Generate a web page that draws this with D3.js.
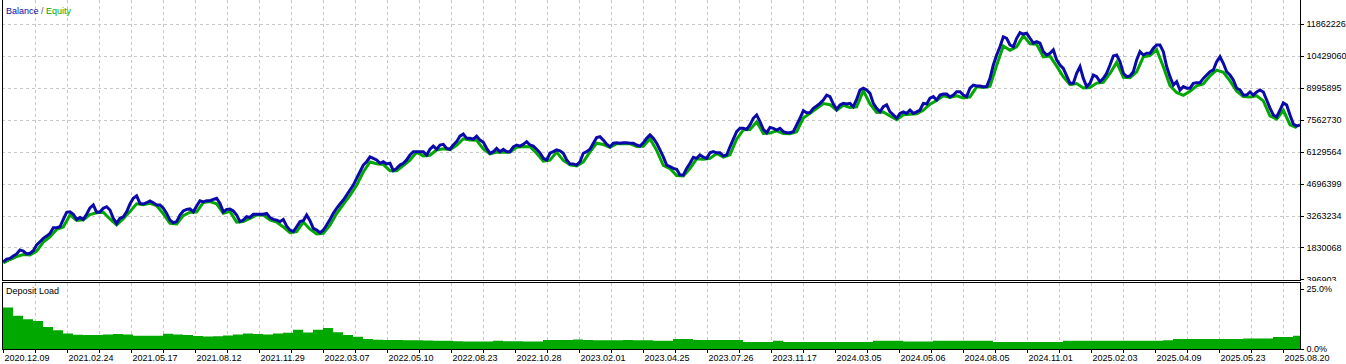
<html>
  <head>
    <title>Balance / Equity</title>
    <script type="text/javascript" src="https://cdn.jsdelivr.net/npm/d3@7/dist/d3.min.js"></script>
    <style>
      body { margin: 0; background: #fff; }
      svg text { font-family: "Liberation Sans", Arial, sans-serif; font-size: 9px; fill: #000; }
    </style>
    <script type="text/javascript">
      // balance, sampled along the test (millions)
      var balance = [
        1.18,1.31,1.34,1.45,1.54,1.72,1.67,1.54,1.57,1.68,
        1.94,2.09,2.24,2.34,2.46,2.72,2.72,2.76,3.09,3.41,
        3.43,3.32,3.09,3.18,3.09,3.32,3.61,3.74,3.41,3.43,
        3.59,3.66,3.51,3.14,2.91,3.14,3.21,3.43,3.78,4.04,
        4.15,3.81,3.78,3.84,3.92,3.84,3.74,3.74,3.59,3.36,
        3.06,2.94,2.99,3.29,3.47,3.54,3.56,3.43,3.69,3.93,
        3.88,3.93,3.93,3.99,4.04,3.81,3.43,3.54,3.56,3.47,
        3.29,2.99,3.06,3.21,3.18,3.32,3.32,3.32,3.32,3.36,
        3.17,3.09,3.06,2.99,3.09,2.79,2.61,2.54,2.76,2.99,
        3.03,3.29,3.03,2.69,2.61,2.49,2.61,2.84,3.09,3.36,
        3.59,3.78,3.96,
        4.18,4.41,4.63,4.93,5.23,5.53,5.68,5.90,5.83,5.76,
        5.61,5.68,5.58,5.61,5.28,5.38,5.53,5.61,5.76,5.98,
        6.13,6.13,6.13,6.13,5.98,6.24,6.38,6.24,6.43,6.46,
        6.28,6.24,6.43,6.58,6.83,6.92,6.73,6.73,6.69,6.83,
        6.65,6.55,6.28,6.06,6.13,6.28,6.13,6.24,6.13,6.13,
        6.35,6.43,6.38,6.46,6.58,6.43,6.38,6.24,6.08,5.83,
        5.76,6.06,6.13,6.21,6.17,6.06,5.76,5.58,5.58,5.53,
        5.68,6.06,6.13,6.24,6.51,6.76,6.80,6.65,6.47,6.35,
        6.51,6.53,6.51,6.53,6.53,6.51,6.51,6.43,6.38,6.53,
        6.73,6.88,6.73,6.51,6.21,5.90,5.53,
        5.46,5.38,5.34,5.08,5.08,5.38,5.61,5.88,5.83,5.98,
        5.88,5.83,6.08,6.13,6.08,6.08,5.94,5.98,6.35,6.69,
        7.03,7.18,7.18,7.13,7.33,7.63,7.78,7.48,7.13,6.98,
        7.22,7.18,7.10,7.18,7.03,6.98,6.98,7.03,7.33,7.63,
        7.97,7.88,7.88,8.08,8.18,8.30,8.45,8.67,8.60,8.27,
        8.03,8.23,8.30,8.27,8.30,8.15,8.48,8.90,8.98,8.90,
        8.75,8.30,8.08,7.92,8.15,8.23,7.92,7.78,7.63,7.85,
        7.92,7.85,8.00,7.85,7.92,8.00,8.30,8.27,8.53,8.60,
        8.45,8.67,8.72,8.72,8.59,
        8.67,8.82,8.82,8.67,8.60,8.98,9.12,9.08,9.08,9.05,
        9.05,9.42,10.02,10.47,10.84,11.29,11.22,10.92,10.84,11.22,
        11.47,11.41,11.45,11.22,11.00,11.07,11.00,10.62,10.47,10.55,
        10.70,10.25,10.02,9.87,9.53,9.20,9.20,9.65,9.95,9.42,
        9.05,9.20,9.57,9.50,9.27,9.42,9.65,10.02,10.43,10.47,
        10.17,9.65,9.50,9.53,9.72,10.25,10.62,10.47,10.55,10.55,
        10.77,10.92,10.92,10.62,9.95,9.50,9.12,9.27,8.90,9.05,
        8.98,8.98,9.20,9.23,9.23,9.42,9.57,9.72,9.80,10.17,
        10.39,10.10,9.72,9.57,9.35,8.98,8.90,8.67,8.67,8.81,
        8.67,8.81,8.90,8.81,8.45,8.09,7.78,7.69,8.00,8.32,
        8.23,7.78,7.37,7.28,7.33
      ];

      // equity low points, one per two balance samples (millions)
      var equity = [
        1.14,1.29,1.42,1.51,1.49,1.67,2.07,2.31,2.64,2.75,
        3.29,3.04,3.07,3.31,3.39,3.41,3.11,2.84,3.12,3.44,
        3.79,3.75,3.81,3.71,3.34,2.91,2.89,3.26,3.41,3.42,
        3.85,3.89,3.79,3.37,3.45,2.97,2.99,3.14,3.29,3.29,
        3.07,2.97,2.75,2.49,2.54,2.97,2.65,2.44,2.47,2.83,
        3.35,3.77,
        4.17,4.62,5.22,5.67,5.59,5.56,5.27,5.27,5.51,5.75,
        6.11,5.94,5.97,6.21,6.26,6.22,6.42,6.71,6.66,6.64,
        6.25,6.03,6.11,6.10,6.11,6.33,6.36,6.35,6.06,5.71,
        5.75,6.11,5.74,5.54,5.49,5.67,6.12,6.51,6.45,6.33,
        6.49,6.49,6.49,6.36,6.37,6.71,6.19,5.51,
        5.37,5.06,5.04,5.37,5.81,5.79,5.83,6.05,5.89,5.99,
        6.69,7.11,7.12,7.47,6.95,6.97,7.07,6.95,6.94,7.03,
        7.64,7.85,8.07,8.29,8.24,7.99,8.21,8.12,8.14,8.87,
        8.27,7.89,7.91,7.73,7.57,7.79,7.81,7.83,7.99,8.26,
        8.43,8.64,8.56,
        8.64,8.54,8.59,9.04,9.01,9.07,10.01,10.87,10.68,10.84,
        11.34,10.97,10.95,10.39,10.42,9.97,9.49,9.14,9.19,8.99,
        9.01,9.21,9.24,9.64,10.14,9.47,9.45,9.71,10.39,10.44,
        10.71,9.94,9.09,8.79,8.66,8.84,9.09,9.17,9.54,9.79,
        9.69,9.31,8.84,8.61,8.59,8.64,8.41,7.74,7.59,7.99,
        7.34,7.21
      ];

      // deposit load, % (one value per 10 px of the time axis)
      var depositLoad = [
        17.3,13.9,12.4,11.7,9.2,7.8,6.5,5.9,5.8,5.8,
        6.0,6.3,6.0,5.5,5.5,5.5,6.4,6.0,5.8,5.4,
        5.2,5.3,5.6,6.0,6.5,6.3,6.0,6.5,6.8,8.0,
        6.9,8.0,8.7,7.0,5.8,5.1,4.2,3.9,3.7,3.7,
        3.6,3.6,3.5,3.4,3.4,3.2,3.1,3.1,3.1,3.4,
        3.2,3.2,3.1,3.1,3.7,3.7,3.8,4.0,3.8,3.6,
        3.6,3.6,3.7,3.6,3.6,3.4,3.4,4.2,4.2,3.8,
        3.8,3.8,3.8,3.8,2.9,2.9,2.9,3.4,2.9,2.9,
        2.9,2.9,2.9,2.9,2.9,2.9,2.9,3.4,3.4,3.4,
        3.1,3.1,3.1,3.4,3.4,3.4,3.4,3.4,3.4,2.9,
        2.9,2.9,2.9,2.9,2.9,2.9,3.4,3.4,3.4,3.4,
        3.4,3.4,3.4,3.4,3.4,3.4,3.6,4.2,4.2,4.2,
        4.2,4.2,4.2,4.2,4.4,4.4,4.4,5.0,5.0,5.5
      ];

      var balanceTicks = [396903, 1830068, 3263234, 4696399, 6129564, 7562730, 8995895, 10429060, 11862226];
      var loadTicks = [0, 25];
      var dateLabels = ["2020.12.09", "2021.02.24", "2021.05.17", "2021.08.12", "2021.11.29",
                        "2022.03.07", "2022.05.10", "2022.08.23", "2022.10.28", "2023.02.01",
                        "2023.04.25", "2023.07.26", "2023.11.17", "2024.03.05", "2024.05.06",
                        "2024.08.05", "2024.11.01", "2025.02.03", "2025.04.09", "2025.05.23",
                        "2025.08.20"];

      function ready(fn) {
        if (document.readyState != 'loading'){ fn() }
        else { document.addEventListener('DOMContentLoaded', fn) }
      }
      ready(function() {
        drawChart();
      });

      function drawChart() {
        var svg = d3.select("#chart"),
            left = 2, right = 1300,
            mainTop = 0, mainBottom = 280,
            subTop = 282, subBottom = 349,
            gridColor = "#c8c8c8";

        var x = d3.scaleLinear().domain([0, balance.length - 1]).range([3.3, 1300]);
        var grid = d3.scaleLinear().domain([0, (dateLabels.length - 1) * 2]).range([3, 1283]);
        var y = d3.scaleLinear().domain([balanceTicks[0], balanceTicks[balanceTicks.length - 1]]).range([279.4, 24]);
        var yLoad = d3.scaleLinear().domain(loadTicks).range([349, 289]);
        var xLoad = d3.scaleLinear().domain([0, depositLoad.length]).range([3, 1303]);

        svg.append("rect").attr("width", 1346).attr("height", 364).attr("fill", "white");

        var defs = svg.append("defs");
        defs.append("clipPath").attr("id", "clip-main")
          .append("rect").attr("x", left + 1).attr("y", mainTop).attr("width", right - left - 1).attr("height", mainBottom - mainTop);
        defs.append("clipPath").attr("id", "clip-sub")
          .append("rect").attr("x", left + 1).attr("y", subTop + 1).attr("width", right - left - 1).attr("height", subBottom - subTop - 1);
        defs.append("clipPath").attr("id", "clip-main-axis")
          .append("rect").attr("x", right).attr("y", 0).attr("width", 46).attr("height", mainBottom + 1);
        defs.append("clipPath").attr("id", "clip-sub-axis")
          .append("rect").attr("x", right).attr("y", subTop + 1).attr("width", 46).attr("height", 364 - subTop);

        // grid
        var gridIdx = d3.range(1, (dateLabels.length - 1) * 2 + 1);
        var g = svg.append("g")
            .attr("stroke", gridColor)
            .attr("stroke-dasharray", "3,3")
            .attr("shape-rendering", "crispEdges");
        g.selectAll("line.v1")
          .data(gridIdx)
          .enter().append("line")
            .attr("x1", function(d) { return Math.round(grid(d)) + 0.5; })
            .attr("x2", function(d) { return Math.round(grid(d)) + 0.5; })
            .attr("y1", mainTop).attr("y2", mainBottom);
        g.selectAll("line.v2")
          .data(gridIdx)
          .enter().append("line")
            .attr("x1", function(d) { return Math.round(grid(d)) + 0.5; })
            .attr("x2", function(d) { return Math.round(grid(d)) + 0.5; })
            .attr("y1", subTop + 1).attr("y2", subBottom);
        g.selectAll("line.h")
          .data(balanceTicks.slice(1))
          .enter().append("line")
            .attr("x1", left).attr("x2", right)
            .attr("y1", function(d) { return Math.round(y(d)) + 0.5; })
            .attr("y2", function(d) { return Math.round(y(d)) + 0.5; });

        // deposit load
        var area = d3.area()
            .x(function(d, i) { return xLoad(i); })
            .y0(yLoad(0))
            .y1(function(d) { return yLoad(d); })
            .curve(d3.curveStepAfter);
        svg.append("path")
          .datum(depositLoad.concat([depositLoad[depositLoad.length - 1]]))
          .attr("clip-path", "url(#clip-sub)")
          .attr("fill", "#00a800")
          .attr("d", area);

        // equity and balance
        var plot = svg.append("g").attr("clip-path", "url(#clip-main)");
        plot.append("path")
          .datum(equity)
          .attr("fill", "none")
          .attr("stroke", "#00a800")
          .attr("stroke-width", 3)
          .attr("d", d3.line()
            .x(function(d, i) { return x(i * 2); })
            .y(function(d) { return y(d * 1e6); }));
        plot.append("path")
          .datum(balance)
          .attr("fill", "none")
          .attr("stroke", "#0a0aaa")
          .attr("stroke-width", 3)
          .attr("d", d3.line()
            .x(function(d, i) { return x(i); })
            .y(function(d) { return y(d * 1e6); }));

        // frames
        var frame = svg.append("g")
            .attr("fill", "none")
            .attr("stroke", "#000")
            .attr("shape-rendering", "crispEdges");
        frame.append("path").attr("d", "M" + (left + 0.5) + "," + mainTop + "V" + (mainBottom + 0.5) + "H" + (right + 0.5) + "V" + mainTop);
        frame.append("rect")
          .attr("x", left + 0.5).attr("y", subTop + 0.5)
          .attr("width", right - left).attr("height", subBottom - subTop);

        // right axes
        var axMain = svg.append("g")
            .attr("clip-path", "url(#clip-main-axis)")
          .append("g")
            .attr("transform", "translate(" + (right + 0.5) + ",0)")
            .call(d3.axisRight(y).tickValues(balanceTicks).tickSize(3).tickPadding(3).tickFormat(d3.format("d")));
        var axSub = svg.append("g")
            .attr("clip-path", "url(#clip-sub-axis)")
          .append("g")
            .attr("transform", "translate(" + (right + 0.5) + ",0)")
            .call(d3.axisRight(yLoad).tickValues(loadTicks).tickSize(3).tickPadding(3)
              .tickFormat(function(d) { return d.toFixed(1) + "%"; }));

        // time axis
        var axTime = svg.append("g")
            .attr("transform", "translate(0," + (subBottom + 0.5) + ")")
            .call(d3.axisBottom(grid).tickValues(d3.range(0, (dateLabels.length - 1) * 2 + 1)).tickSize(3).tickPadding(2)
              .tickFormat(function(d) { return d % 2 ? "" : dateLabels[d / 2]; }));
        axTime.selectAll("text").attr("text-anchor", "start").attr("dx", 1);

        [axMain, axSub, axTime].forEach(function(a) {
          a.attr("font-size", null).attr("font-family", null);
          a.select(".domain").remove();
          a.selectAll("line").attr("shape-rendering", "crispEdges");
        });

        // titles
        var legend = svg.append("text").attr("x", 6).attr("y", 14);
        legend.append("tspan").style("fill", "#0a0aaa").text("Balance");
        legend.append("tspan").style("fill", "#555").text(" / ");
        legend.append("tspan").style("fill", "#00a800").text("Equity");
        svg.append("text").attr("x", 6).attr("y", 294).text("Deposit Load");
      }
    </script>
  </head>
  <body>
    <svg id="chart" width="1346" height="364"></svg>
  </body>
</html>
